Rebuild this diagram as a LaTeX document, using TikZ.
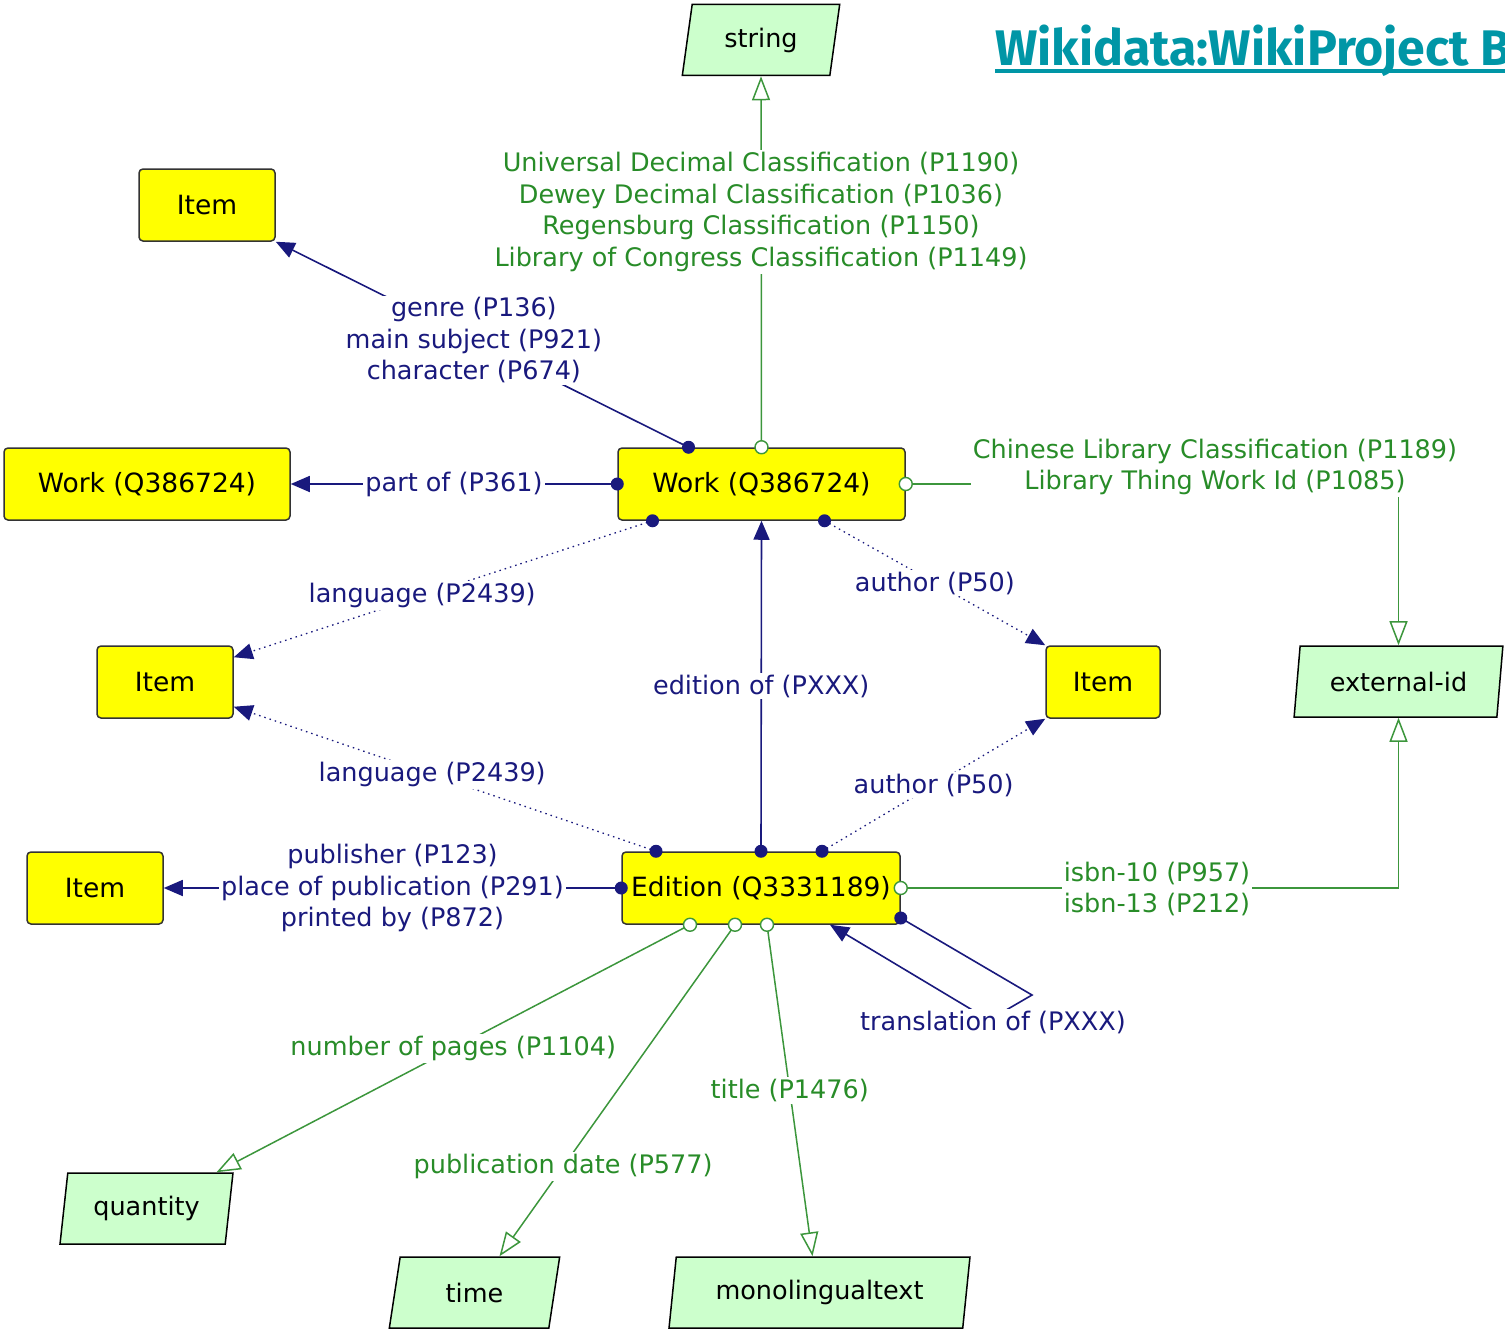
\documentclass[tikz,border=0pt]{standalone}
\usepackage{fontspec}
\setmainfont{DejaVu Sans}
\newfontfamily\titlefont{Fira Sans}
\usetikzlibrary{arrows.meta,shapes.geometric,calc}
\definecolor{navy}{RGB}{25,25,125}
\definecolor{dgreen}{RGB}{40,140,40}
\definecolor{lgreen}{RGB}{60,150,60}
\definecolor{pfill}{RGB}{204,255,204}
\definecolor{yfill}{RGB}{255,255,0}
\definecolor{teal2}{RGB}{0,150,166}
\begin{document}
\begin{tikzpicture}[x=1pt,y=-1pt,
  font=\fontsize{25.5}{31.5}\selectfont,
  item/.style={draw=black!80, fill=yfill, rounded corners=4pt, line width=1.5pt, minimum height=72pt, inner sep=0pt, font=\fontsize{26.5}{31.5}\selectfont},
  dtype/.style={trapezium, trapezium left angle=78, trapezium right angle=102, trapezium stretches=true, draw=black, line width=1.5pt, fill=pfill, minimum height=71pt, inner sep=0pt},
  rel/.style={navy, line width=1.6pt},
  relx/.style={navy, line width=1.3pt, dash pattern=on 1.5pt off 4pt},
  lit/.style={lgreen, line width=1.5pt},
  fa/.style={-{Triangle[length=19pt,width=16pt]}},
  ha/.style={-{Triangle[open,length=24pt,width=18pt,fill=white]}},
  nlab/.style={text=navy, fill=white, inner sep=2pt, align=center},
  glab/.style={text=dgreen, fill=white, inner sep=2pt, align=center},
  sdot/.style={circle, fill=navy, inner sep=0pt, minimum size=13pt},
  odot/.style={circle, draw=lgreen, fill=white, line width=1.4pt, inner sep=0pt, minimum size=13pt},
]
\useasboundingbox (0,0) rectangle (1505,1330);
\begin{scope}
\clip (0,0) rectangle (1505,1330);
\node[anchor=base west, inner sep=0pt, text=teal2, font=\titlefont\bfseries\fontsize{50}{58}\selectfont] (title) at (995,66) {Wikidata:WikiProject B};
\draw[teal2, line width=4pt] ([yshift=-5pt]title.base west) -- ([yshift=-5pt]title.base east);
\end{scope}

% nodes
\node[dtype, minimum width=158pt] (string) at (761,40) {string};
\node[item, minimum width=136pt] (itemTL) at (207,205) {Item};
\node[item, minimum width=286pt] (workL) at (147,484) {Work (Q386724)};
\node[item, minimum width=287pt] (work) at (761.5,484) {Work (Q386724)};
\node[item, minimum width=136pt] (itemML) at (165,682) {Item};
\node[item, minimum width=114pt] (itemR) at (1103,682) {Item};
\node[dtype, minimum width=209pt] (ext) at (1398.5,681.5) {external-id};
\node[item, minimum width=136pt] (itemBL) at (95,888) {Item};
\node[item, minimum width=278pt] (edition) at (761,888) {Edition (Q3331189)};
\node[dtype, minimum width=173pt] (quantity) at (146.5,1208.5) {quantity};
\node[dtype, minimum width=171pt] (time) at (474.5,1292.5) {time};
\node[dtype, minimum width=301pt] (mono) at (819.5,1292.5) {monolingualtext};

% ports
\coordinate (wT) at (work.north);
\coordinate (wTL) at ([xshift=-73pt]work.north);
\coordinate (wB1) at ([xshift=-109pt]work.south);
\coordinate (wB2) at ([xshift=63pt]work.south);
\coordinate (eT1) at ([xshift=-105pt]edition.north);
\coordinate (eT2) at ([xshift=61pt]edition.north);
\coordinate (eB1) at ([xshift=-71pt]edition.south);
\coordinate (eB2) at ([xshift=-26pt]edition.south);
\coordinate (eB3) at ([xshift=6pt]edition.south);
\coordinate (eR) at ([yshift=-30pt]edition.east);
\coordinate (eTr) at ([xshift=69pt]edition.south);
\coordinate (tq) at ([xshift=70pt]quantity.north);
\coordinate (tt) at ([xshift=25pt]time.north);
\coordinate (tm) at ([xshift=-7pt]mono.north);
\coordinate (mlA) at ([yshift=-12pt]itemML.north east);
\coordinate (mlB) at ([yshift=12pt]itemML.south east);
\coordinate (lp1) at (1032,995);
\coordinate (lp2) at (989,1020);

% connectors
\draw[lit, ha] (wT) -- (string.south)
  node[glab] (lclass) at (761,212) {Universal Decimal Classification (P1190)\\Dewey Decimal Classification (P1036)\\Regensburg Classification (P1150)\\Library of Congress Classification (P1149)};
\draw[rel, fa] (wTL) -- node[nlab, pos=0.52] (lgenre) {genre (P136)\\main subject (P921)\\character (P674)} (itemTL.south east);
\draw[rel, fa] (work.west) -- node[nlab] (lpart) {part of (P361)} (workL.east);
\draw[lit, ha] (work.east) -| (ext.north)
  node[glab] (lclc) at (1215,467) {Chinese Library Classification (P1189)\\Library Thing Work Id (P1085)};
\draw[relx, fa] (wB1) -- node[nlab, pos=0.55] (llang1) {language (P2439)} (mlA);
\draw[relx, fa] (wB2) -- node[nlab] (lauth1) {author (P50)} (itemR.north west);
\draw[rel, fa] (edition.north) -- node[nlab] (led) {edition of (PXXX)} (work.south);
\draw[relx, fa] (eT1) -- node[nlab, pos=0.53] (llang2) {language (P2439)} (mlB);
\draw[relx, fa] (eT2) -- node[nlab] (lauth2) {author (P50)} (itemR.south west);
\draw[rel, fa] (edition.west) -- node[nlab] (lpub) {publisher (P123)\\place of publication (P291)\\printed by (P872)} (itemBL.east);
\draw[lit, ha] (edition.east) -| (ext.south)
  node[glab] (lisbn) at (1157,889) {isbn-10 (P957)\\isbn-13 (P212)};
\draw[lit, ha] (eB1) -- node[glab] (lpages) {number of pages (P1104)} (tq);
\draw[lit, ha] (eB2) -- node[glab, pos=0.73] (ldate) {publication date (P577)} (tt);
\draw[lit, ha] (eB3) -- node[glab] (ltitle) {title (P1476)} (tm);
\draw[rel, fa] (eR) -- (lp1) -- (lp2) -- (eTr)
  node[nlab] (ltrans) at (993,1022) {translation of (PXXX)};

% port markers
\node[odot] (d1) at (wT) {};
\node[sdot] (d2) at (wTL) {};
\node[sdot] (d3) at (work.west) {};
\node[odot] (d4) at (work.east) {};
\node[sdot] (d5) at (wB1) {};
\node[sdot] (d6) at (wB2) {};
\node[sdot] (d7) at (edition.north) {};
\node[sdot] (d8) at (eT1) {};
\node[sdot] (d9) at (eT2) {};
\node[sdot] (d10) at (edition.west) {};
\node[sdot] (d11) at (eR) {};
\node[odot] (d12) at (edition.east) {};
\node[odot] (d13) at (eB1) {};
\node[odot] (d14) at (eB2) {};
\node[odot] (d15) at (eB3) {};
\end{tikzpicture}
\end{document}
